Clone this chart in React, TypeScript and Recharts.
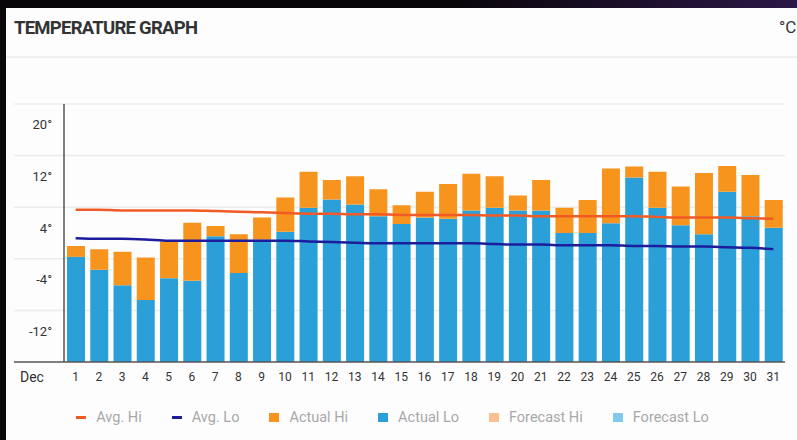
import React from "react";
import {
  ComposedChart,
  Bar,
  Line,
  XAxis,
  YAxis,
  CartesianGrid,
  ReferenceLine,
  Label,
} from "recharts";

const monthLabel = "Dec";
const days = [
  1, 2, 3, 4, 5, 6, 7, 8, 9, 10, 11, 12, 13, 14, 15, 16, 17, 18, 19, 20, 21,
  22, 23, 24, 25, 26, 27, 28, 29, 30, 31,
];
const actualHi = [
  2.0, 1.5, 1.1, 0.2, 2.7, 5.6, 5.1, 3.8, 6.4, 9.5, 13.5, 12.2, 12.8, 10.8,
  8.3, 10.4, 11.6, 13.2, 12.8, 9.8, 12.2, 7.9, 9.1, 14.0, 14.3, 13.5, 11.2,
  13.3, 14.4, 13.0, 9.1,
];
const actualLo = [
  0.3, -1.7, -4.1, -6.4, -3.0, -3.4, 3.5, -2.2, 3.0, 4.2, 7.9, 9.2, 8.4, 6.6,
  5.4, 6.4, 6.2, 7.5, 7.9, 7.5, 7.5, 4.0, 4.0, 5.5, 12.6, 7.9, 5.2, 3.8, 10.4,
  6.6, 4.8,
];
const avgHi = [
  7.6, 7.6, 7.5, 7.5, 7.5, 7.5, 7.4, 7.3, 7.2, 7.1, 7.0, 7.0, 6.9, 6.9, 6.8,
  6.8, 6.8, 6.8, 6.7, 6.7, 6.6, 6.6, 6.6, 6.6, 6.6, 6.5, 6.4, 6.4, 6.4, 6.3,
  6.2,
];
const avgLo = [
  3.2, 3.1, 3.1, 3.0, 2.8, 2.8, 2.8, 2.8, 2.8, 2.8, 2.7, 2.6, 2.5, 2.4, 2.4,
  2.4, 2.4, 2.4, 2.3, 2.2, 2.2, 2.1, 2.1, 2.1, 2.0, 2.0, 1.9, 1.9, 1.8, 1.7,
  1.5,
];
const yMin = -16;
const yMax = 24;
const yTicks = [-12, -4, 4, 12, 20];
const gridValues = [-8, 0, 8, 16, 24];

const legendItems = [
  { name: "Avg. Hi", color: "#f15a24", kind: "line" },
  { name: "Avg. Lo", color: "#1c1c9c", kind: "line" },
  { name: "Actual Hi", color: "#f7941d", kind: "square" },
  { name: "Actual Lo", color: "#2b9fd8", kind: "square" },
  { name: "Forecast Hi", color: "#fcc08c", kind: "square" },
  { name: "Forecast Lo", color: "#80c8ec", kind: "square" },
];

const data = days.map((day, i) => ({
  day,
  lo: [yMin, actualLo[i]],
  hi: [actualLo[i], actualHi[i]],
  avgHi: avgHi[i],
  avgLo: avgLo[i],
}));

const font = "Roboto, 'DejaVu Sans', sans-serif";

const YTick = ({ x, y, payload }: any) => (
  <text
    x={x + 30}
    y={y - 5}
    dy="0.35em"
    textAnchor="end"
    fill="#333"
    fontSize={13}
    fontFamily={font}
  >
    {payload.value}°
  </text>
);

const App: React.FC = () => {
  return (
    <div
      style={{
        position: "fixed",
        left: 0,
        top: 0,
        width: 797,
        height: 440,
        overflow: "hidden",
        background: "#0b080c",
        fontFamily: font,
      }}
    >
      <div
        style={{
          position: "absolute",
          left: 0,
          top: 0,
          width: 797,
          height: 8,
          background: "linear-gradient(90deg, #080608 55%, #2c1746 100%)",
        }}
      />
      <div
        style={{
          position: "absolute",
          left: 6,
          top: 8,
          width: 791,
          height: 432,
          background: "#fdfdfd",
        }}
      />
      <div
        style={{
          position: "absolute",
          left: 14,
          top: 17,
          fontSize: 18.5,
          fontWeight: 700,
          letterSpacing: -0.75,
          color: "#333",
        }}
      >
        TEMPERATURE GRAPH
      </div>
      <div
        style={{
          position: "absolute",
          left: 779,
          top: 17,
          fontSize: 17,
          color: "#333",
          whiteSpace: "nowrap",
        }}
      >
        °C
      </div>
      <div
        style={{
          position: "absolute",
          left: 6,
          top: 56,
          width: 791,
          height: 2,
          background: "#f0f0f0",
        }}
      />
      <div style={{ position: "absolute", left: 0, top: 0 }}>
        <ComposedChart
          width={797}
          height={440}
          data={data}
          margin={{ top: 104, right: 12, bottom: 48, left: 14 }}
        >
          <CartesianGrid
            vertical={false}
            horizontalValues={gridValues}
            stroke="#ececec"
            strokeWidth={1.5}
          />
          <XAxis
            dataKey="day"
            xAxisId="main"
            height={30}
            padding={{ left: 50, right: 0 }}
            tickLine={false}
            tickMargin={4}
            interval={0}
            axisLine={{ stroke: "#555", strokeWidth: 1.5 }}
            tick={{ fill: "#333", fontSize: 12, fontFamily: font }}
          >
            <Label
              value={monthLabel}
              position="insideLeft"
              offset={6}
              fill="#333"
              fontSize={14}
              fontFamily={font}
            />
          </XAxis>
          <XAxis
            dataKey="day"
            xAxisId="overlay"
            hide
            padding={{ left: 50, right: 0 }}
          />
          <YAxis
            domain={[yMin, yMax]}
            ticks={yTicks}
            mirror
            axisLine={false}
            tickLine={false}
            tick={<YTick />}
            allowDataOverflow
          />
          <Bar
            xAxisId="main"
            dataKey="lo"
            fill="#2b9fd8"
            barSize={18}
            isAnimationActive={false}
          />
          <Bar
            xAxisId="overlay"
            dataKey="hi"
            fill="#f7941d"
            barSize={18}
            isAnimationActive={false}
          />
          <ReferenceLine
            xAxisId="main"
            x={1}
            position="start"
            stroke="#555"
            strokeWidth={1.5}
          />
          <Line
            xAxisId="main"
            dataKey="avgHi"
            stroke="#f15a24"
            strokeWidth={2.5}
            dot={false}
            type="monotone"
            isAnimationActive={false}
          />
          <Line
            xAxisId="main"
            dataKey="avgLo"
            stroke="#1c1c9c"
            strokeWidth={2.5}
            dot={false}
            type="monotone"
            isAnimationActive={false}
          />
        </ComposedChart>
      </div>
      <div
        style={{
          position: "absolute",
          left: 0,
          top: 407,
          width: 785,
          height: 20,
          display: "flex",
          justifyContent: "center",
          alignItems: "center",
          gap: 30,
          fontSize: 14.5,
          color: "#a8a8a8",
        }}
      >
        {legendItems.map((item) => (
          <div
            key={item.name}
            style={{ display: "flex", alignItems: "center", gap: 10 }}
          >
            <span
              style={{
                display: "inline-block",
                width: 10,
                height: item.kind === "line" ? 3 : 9,
                background: item.color,
              }}
            />
            <span>{item.name}</span>
          </div>
        ))}
      </div>
    </div>
  );
};

export default App;
